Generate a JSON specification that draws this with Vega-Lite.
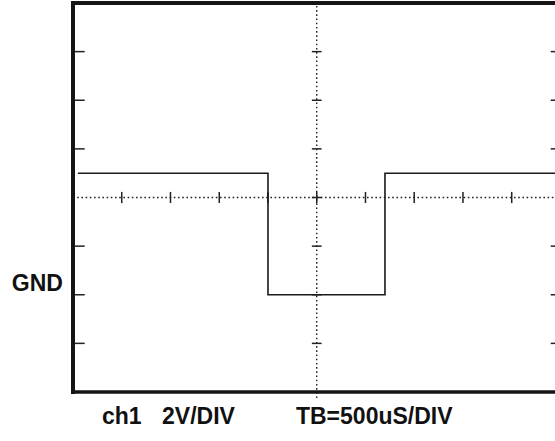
{
  "$schema": "https://vega.github.io/schema/vega-lite/v6.json",
  "width": 482,
  "height": 389,
  "autosize": {"type": "none"},
  "padding": {"left": 73, "top": 3, "right": 0, "bottom": 49},
  "background": "white",
  "config": {"view": {"stroke": null}, "axis": {"disable": true}},
  "datasets": {
    "signal": [
      {"i": 0, "t": 50, "v": 5.0},
      {"i": 1, "t": 2000, "v": 5.0},
      {"i": 2, "t": 2000, "v": 0},
      {"i": 3, "t": 3200, "v": 0},
      {"i": 4, "t": 3200, "v": 5.0},
      {"i": 5, "t": 5000, "v": 5.0}
    ],
    "vdiv": [{"v": -2}, {"v": 0}, {"v": 2}, {"v": 4}, {"v": 6}, {"v": 8}, {"v": 10}],
    "tdiv": [{"t": 500}, {"t": 1000}, {"t": 1500}, {"t": 2000}, {"t": 2500}, {"t": 3000}, {"t": 3500}, {"t": 4000}, {"t": 4500}],
    "center": [{"t": 2500, "v": 4}],
    "labels": [
      {"text": "ch1", "t": 297, "v": -5.33},
      {"text": "2V/DIV", "t": 913, "v": -5.33},
      {"text": "TB=500uS/DIV", "t": 2287, "v": -5.33}
    ],
    "gnd": [{"text": "GND", "t": -103, "v": 0.17}]
  },
  "layer": [
    {
      "data": {"name": "center"},
      "mark": {"type": "rule", "color": "#222", "strokeWidth": 1.4, "strokeDash": [1.6, 2.6]},
      "encoding": {
        "y": {"field": "v", "type": "quantitative", "scale": {"domain": [-4, 12], "nice": false, "zero": false}},
        "x": {"datum": 0, "type": "quantitative", "scale": {"domain": [0, 4944], "nice": false, "zero": false}},
        "x2": {"datum": 4944}
      }
    },
    {
      "data": {"name": "center"},
      "mark": {"type": "rule", "color": "#222", "strokeWidth": 1.4, "strokeDash": [1.6, 2.6]},
      "encoding": {
        "x": {"field": "t", "type": "quantitative"},
        "y": {"datum": -4.25, "type": "quantitative"},
        "y2": {"datum": 12}
      }
    },
    {
      "data": {"name": "tdiv"},
      "mark": {"type": "rule", "color": "#222", "strokeWidth": 1.5},
      "encoding": {
        "x": {"field": "t", "type": "quantitative"},
        "y": {"datum": 3.77, "type": "quantitative"},
        "y2": {"datum": 4.23}
      }
    },
    {
      "data": {"name": "vdiv"},
      "mark": {"type": "rule", "color": "#222", "strokeWidth": 1.5},
      "encoding": {
        "y": {"field": "v", "type": "quantitative"},
        "x": {"datum": 2450, "type": "quantitative"},
        "x2": {"datum": 2550}
      }
    },
    {
      "data": {"name": "vdiv"},
      "transform": [{"filter": "datum.v != 4"}],
      "mark": {"type": "rule", "color": "#222", "strokeWidth": 1.5},
      "encoding": {
        "y": {"field": "v", "type": "quantitative"},
        "x": {"datum": 0, "type": "quantitative"},
        "x2": {"datum": 120}
      }
    },
    {
      "data": {"name": "vdiv"},
      "transform": [{"filter": "datum.v != 4"}],
      "mark": {"type": "rule", "color": "#222", "strokeWidth": 1.5, "clip": true},
      "encoding": {
        "y": {"field": "v", "type": "quantitative"},
        "x": {"datum": 4900, "type": "quantitative"},
        "x2": {"datum": 5000}
      }
    },
    {
      "data": {"name": "signal"},
      "mark": {"type": "line", "color": "#1a1a1a", "strokeWidth": 1.6, "clip": true, "interpolate": "linear"},
      "encoding": {
        "x": {"field": "t", "type": "quantitative"},
        "y": {"field": "v", "type": "quantitative"},
        "order": {"field": "i", "type": "quantitative"}
      }
    },
    {
      "data": {"values": [{}]},
      "mark": {"type": "rule", "color": "#151515", "strokeWidth": 4, "strokeCap": "square"},
      "encoding": {
        "x": {"datum": 0, "type": "quantitative"},
        "y": {"datum": -4, "type": "quantitative"},
        "y2": {"datum": 12}
      }
    },
    {
      "data": {"values": [{}]},
      "mark": {"type": "rule", "color": "#151515", "strokeWidth": 4, "strokeCap": "square"},
      "encoding": {
        "y": {"datum": 12, "type": "quantitative"},
        "x": {"datum": 0, "type": "quantitative"},
        "x2": {"datum": 4944}
      }
    },
    {
      "data": {"values": [{}]},
      "mark": {"type": "rule", "color": "#151515", "strokeWidth": 3.5, "strokeCap": "square"},
      "encoding": {
        "y": {"datum": -4, "type": "quantitative"},
        "x": {"datum": 0, "type": "quantitative"},
        "x2": {"datum": 4944}
      }
    },
    {
      "data": {"name": "labels"},
      "mark": {"type": "text", "align": "left", "baseline": "alphabetic", "font": "Liberation Sans", "fontWeight": "bold", "fontSize": 23, "color": "#111"},
      "encoding": {
        "x": {"field": "t", "type": "quantitative"},
        "y": {"field": "v", "type": "quantitative"},
        "text": {"field": "text"}
      }
    },
    {
      "data": {"name": "gnd"},
      "mark": {"type": "text", "align": "right", "baseline": "alphabetic", "font": "Liberation Sans", "fontWeight": "bold", "fontSize": 23, "color": "#111"},
      "encoding": {
        "x": {"field": "t", "type": "quantitative"},
        "y": {"field": "v", "type": "quantitative"},
        "text": {"field": "text"}
      }
    }
  ]
}
